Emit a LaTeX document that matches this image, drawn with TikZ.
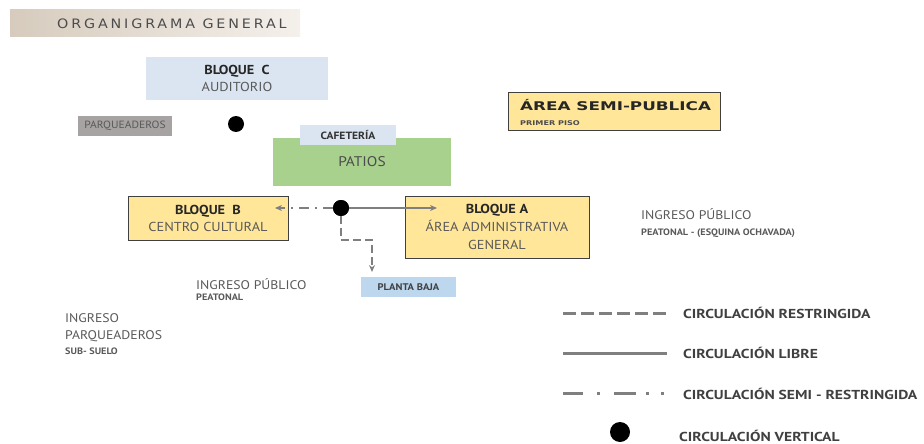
\documentclass[tikz,border=0pt]{standalone}
\usepackage{fontspec}
\setmainfont[FakeStretch=1.1]{PT Sans}
\newfontfamily\titlefont[LetterSpace=22,FakeStretch=1.1]{DejaVu Sans}
\newfontfamily\widefont[FakeStretch=1.4]{DejaVu Sans}
\newfontfamily\widefontb[FakeStretch=1.25]{DejaVu Sans}
\newfontfamily\legfont[FakeStretch=1.2]{PT Sans}
\usetikzlibrary{arrows.meta}
\definecolor{ltblue}{HTML}{DBE5F1}
\definecolor{pbblue}{HTML}{BDD7EE}
\definecolor{patgreen}{HTML}{A9D18E}
\definecolor{ylw}{HTML}{FFE699}
\definecolor{parqgray}{HTML}{A8A3A3}
\definecolor{txtgray}{HTML}{595959}
\definecolor{linegray}{HTML}{7F7F7F}
\definecolor{bannerL}{HTML}{D6CBBD}
\definecolor{bannerR}{HTML}{F4F0EB}
\tikzset{
  boxbase/.style={rectangle, inner sep=0pt, align=center, text=txtgray},
  bluebox/.style={boxbase, fill=ltblue},
  yelbox/.style={boxbase, fill=ylw, draw=black!75, line width=1pt},
  dotnode/.style={circle, fill=black, inner sep=0pt, minimum size=16pt},
  lbl/.style={anchor=west, inner sep=0pt, text=txtgray, align=left},
  circline/.style={draw=linegray, line width=2pt},
  legline/.style={draw=linegray, line width=3pt},
  tip/.style={-{Stealth[length=7pt,width=6pt]}},
  restr/.style={dash pattern=on 8pt off 4pt},
  semirestr/.style={dash pattern=on 10pt off 6pt on 2pt off 6pt},
  bigtxt/.style={font=\fontsize{13}{17}\selectfont},
  smalltxt/.style={font=\fontsize{9.3}{12}\selectfont\bfseries},
}
\begin{document}
\begin{tikzpicture}[x=1pt,y=-1pt]
\useasboundingbox (0,0) rectangle (924,444);
% title banner
\shade[left color=bannerL, right color=bannerR] (10,10) rectangle (300,37);
\node[anchor=west, inner sep=0pt, text=black!70, font=\fontsize{13}{14}\selectfont\titlefont] (title) at (57,24) {ORGANIGRAMA GENERAL};
% bloque C
\node[bluebox, minimum width=182pt, minimum height=43pt, bigtxt] (bc) at (237,78.5)
  {\textbf{\color{black!85}BLOQUE\ \ C}\\AUDITORIO};
% parqueaderos
\node[boxbase, fill=parqgray, minimum width=94pt, minimum height=20pt, font=\fontsize{10.5}{12}\selectfont, text=black!65] (parq) at (125,126) {PARQUEADEROS};
% dot 1
\node[dotnode] (d1) at (236,124) {};
% patios
\node[boxbase, fill=patgreen, minimum width=178pt, minimum height=48pt, font=\fontsize{14}{17}\selectfont, text=black!70] (pat) at (362,162) {\raisebox{-4pt}{PATIOS}};
% cafeteria
\node[bluebox, minimum width=96pt, minimum height=20pt, font=\fontsize{10.5}{12}\selectfont\bfseries, text=black!80] (caf) at (348,135) {CAFETERÍA};
% area semi-publica
\node[yelbox, minimum width=212pt, minimum height=37pt] (semi) at (614,111.5) {};
\node[lbl, text=black!85, font=\fontsize{12}{14}\selectfont\widefont\bfseries] (semit) at (520,105) {ÁREA SEMI-PUBLICA};
\node[lbl, text=black!70, font=\fontsize{6.5}{8}\selectfont\widefontb\bfseries] (semis) at (520,123) {PRIMER PISO};
% bloque B
\node[yelbox, minimum width=160pt, minimum height=44pt, bigtxt] (bb) at (208,218)
  {\textbf{\color{black!85}BLOQUE\ \ B}\\CENTRO CULTURAL};
% bloque A
\node[yelbox, minimum width=184pt, minimum height=62pt, font=\fontsize{13}{18}\selectfont] (ba) at (497,227)
  {\textbf{\color{black!85}BLOQUE A}\\ÁREA ADMINISTRATIVA\\GENERAL};
% planta baja
\node[boxbase, fill=pbblue, minimum width=95pt, minimum height=20pt, font=\fontsize{9.6}{12}\selectfont\bfseries, text=black!75] (pb) at (408.5,287) {PLANTA BAJA};
% connectors
\node[dotnode] (d2) at (341,208) {};
\coordinate (aEnd) at (437,208);
\coordinate (bEnd) at (275,208);
\coordinate (c1) at (341,240);
\coordinate (c2) at (372,240);
\coordinate (pEnd) at (372,272);
\draw[circline, tip] (d2.center) -- (aEnd);
\draw[circline, semirestr, tip] (d2.west) -- (bEnd);
\draw[circline, restr, tip] (d2.south) -- (c1) -- (c2) -- (pEnd);
\node[dotnode] at (d2) {};
% labels
\node[lbl, font=\fontsize{12.5}{14}\selectfont] (ip1) at (196,284) {INGRESO PÚBLICO};
\node[lbl, smalltxt] (ip1s) at (196,297) {PEATONAL};
\node[lbl, font=\fontsize{12.5}{14}\selectfont] (ip2) at (641,214) {INGRESO PÚBLICO};
\node[lbl, smalltxt] (ip2s) at (641,233) {PEATONAL - (ESQUINA OCHAVADA)};
\node[lbl, font=\fontsize{12.5}{14}\selectfont] (ipq) at (65,318) {INGRESO};
\node[lbl, font=\fontsize{12.5}{14}\selectfont] (ipq2) at (65,336) {PARQUEADEROS};
\node[lbl, smalltxt] (ipq3) at (65,351) {SUB- SUELO};
% legend
\coordinate (l1a) at (563,313); \coordinate (l1b) at (667,313);
\coordinate (l2a) at (563,353); \coordinate (l2b) at (667,353);
\coordinate (l3a) at (563,393); \coordinate (l3b) at (669,393);
\draw[legline, dash pattern=on 13pt off 5pt] (l1a) -- (l1b);
\draw[legline] (l2a) -- (l2b);
\draw[legline, dash pattern=on 20pt off 14pt on 3pt off 14pt on 22pt off 10pt on 3pt off 12pt on 3pt off 20pt] (l3a) -- (l3b);
\node[dotnode, minimum size=20pt] (ld) at (620,432) {};
\tikzset{legtxt/.style={lbl, text=black!75, font=\fontsize{13}{14}\selectfont\legfont\bfseries}}
\node[legtxt] (t1) at (683,313) {CIRCULACIÓN RESTRINGIDA};
\node[legtxt] (t2) at (683,353) {CIRCULACIÓN LIBRE};
\node[legtxt] (t3) at (683,394) {CIRCULACIÓN SEMI - RESTRINGIDA};
\node[legtxt] (t4) at (679,436) {CIRCULACIÓN VERTICAL};
\end{tikzpicture}
\end{document}
